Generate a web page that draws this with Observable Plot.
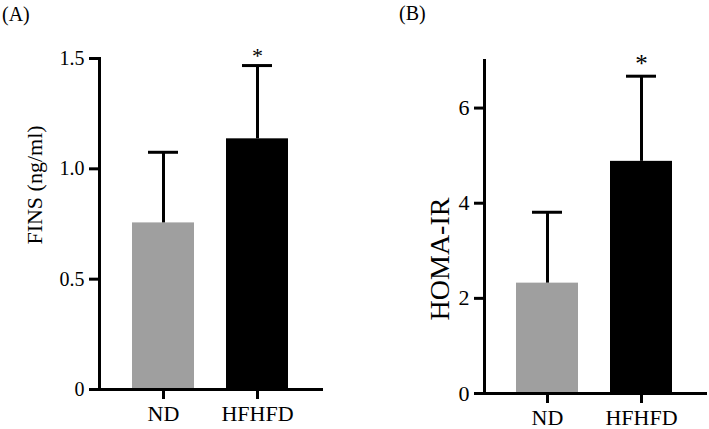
<!DOCTYPE html>
<html>
<head>
<meta charset="utf-8">
<script src="https://cdn.jsdelivr.net/npm/d3@7"></script>
<script src="https://cdn.jsdelivr.net/npm/@observablehq/plot@0.6"></script>
<style>
  html, body { margin: 0; padding: 0; background: #fff; }
  #wrap { position: relative; width: 709px; height: 429px; font-family: "Liberation Serif", "Times New Roman", Times, serif; color: #000; }
  .panel { position: absolute; top: 0; }
  .plabel { position: absolute; font-size: 20px; line-height: 1; }
  .ylab { position: absolute; white-space: nowrap; transform: translate(-50%, -50%) rotate(-90deg); line-height: 1; }
</style>
</head>
<body>
<div id="wrap">
  <div class="plabel" style="left:2px; top:4px;">(A)</div>
  <div class="plabel" style="left:399px; top:3px;">(B)</div>
  <div class="ylab" style="left:35px; top:185px; font-size:22px;">FINS (ng/ml)</div>
  <div class="ylab" style="left:440px; top:259px; font-size:28px;">HOMA-IR</div>
  <div id="pa" class="panel" style="left:0px;"></div>
  <div id="pb" class="panel" style="left:360px;"></div>
</div>
<script>
// Groups
const groups = ["ND", "HFHFD"];
const barColors = ["#9f9f9f", "#000000"];

// Panel A: FINS (ng/ml)
const finsMean = [0.755, 1.136];
const finsUpper = [1.075, 1.468];
const finsTicks = [0, 0.5, 1.0, 1.5];
const finsStars = ["", "*"];

// Panel B: HOMA-IR
const homaMean = [2.32, 4.88];
const homaUpper = [3.81, 6.67];
const homaTicks = [0, 2, 4, 6];
const homaStars = ["", "*"];

function panel({mean, upper, stars, ticks, yDomain, tickFormat, width, marginLeft, marginRight, marginTop, marginBottom, tickFont, starDy, starSize}) {
  const data = groups.map((g, i) => ({g, v: mean[i], hi: upper[i], s: stars[i]}));
  return Plot.plot({
    width, height: 429,
    marginLeft, marginRight, marginTop, marginBottom,
    style: {fontFamily: "'Liberation Serif', 'Times New Roman', Times, serif", background: "transparent", overflow: "visible", color: "#000"},
    x: {domain: groups, padding: 0.337, axis: null},
    y: {domain: yDomain, axis: null},
    color: {domain: groups, range: barColors},
    marks: [
      Plot.barY(data, {x: "g", y: "v", fill: "g"}),
      Plot.ruleX(data, {x: "g", y1: "v", y2: "hi", stroke: "#000", strokeWidth: 3}),
      Plot.tickY(data, {x: "g", y: "hi", stroke: "#000", strokeWidth: 3, insetLeft: 16, insetRight: 16}),
      Plot.text(data, {x: "g", y: "hi", text: "s", dy: starDy, fontSize: starSize, fill: "#000"}),
      Plot.axisY({ticks, tickSize: 10, tickPadding: 5, tickFormat, fontSize: tickFont, label: null, stroke: "#000", strokeWidth: 3}),
      Plot.axisX({tickSize: 10, tickPadding: 6, fontSize: 22, label: null, stroke: "#000", strokeWidth: 3}),
      Plot.frame({anchor: "left", stroke: "#000", strokeWidth: 3}),
      Plot.frame({anchor: "bottom", stroke: "#000", strokeWidth: 3})
    ]
  });
}

document.getElementById("pa").append(panel({
  mean: finsMean, upper: finsUpper, stars: finsStars, ticks: finsTicks,
  yDomain: [0, 1.5], tickFormat: d => d === 0 ? "0" : d.toFixed(1),
  width: 360, marginLeft: 99, marginRight: 39, marginTop: 58, marginBottom: 40, tickFont: 20, starDy: -10, starSize: 22
}));

document.getElementById("pb").append(panel({
  mean: homaMean, upper: homaUpper, stars: homaStars, ticks: homaTicks,
  yDomain: [0, 7], tickFormat: d => String(d),
  width: 349, marginLeft: 124, marginRight: 4, marginTop: 60, marginBottom: 36, tickFont: 22, starDy: -12, starSize: 25
}));
</script>
</body>
</html>
